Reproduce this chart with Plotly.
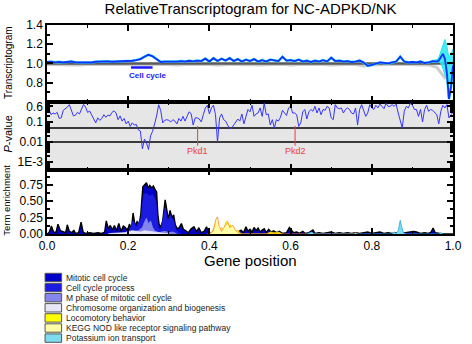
import numpy as np
import plotly.graph_objects as go

FONT = "Liberation Sans, Arial, sans-serif"

# ---------------- Panel 1: relative transcriptogram ----------------
tg_pos = list(np.round(np.arange(0, 0.961, 0.01), 3)) + [0.965, 0.97, 0.975, 0.98, 0.985, 0.99, 0.995, 1.0]
tg_blue = [
    1.015, 1.018, 1.012, 1.016, 1.010, 1.015, 1.020, 1.012, 1.010, 1.015,
    1.012, 1.010, 1.018, 1.020, 1.015, 1.022, 1.018, 1.020, 1.025, 1.020,
    1.022, 1.028, 1.035, 1.045, 1.070, 1.090, 1.075, 1.040, 1.015, 1.020,
    1.018, 1.022, 1.020, 1.025, 1.020, 1.028, 1.022, 1.030, 1.025, 1.050,
    1.020, 1.055, 1.025, 1.050, 1.030, 1.055, 1.025, 1.045, 1.020, 1.040,
    1.025, 1.045, 1.020, 1.035, 1.020, 1.040, 1.030, 1.025, 1.070, 1.030,
    1.035, 1.025, 1.040, 1.020, 1.030, 1.015, 1.030, 1.020, 1.035, 1.020,
    1.060, 1.025, 1.030, 1.020, 1.025, 1.015, 1.020, 1.030, 1.010, 0.975,
    0.985, 1.000, 1.010, 1.005, 1.000, 1.010, 1.020, 1.070, 1.020, 1.010,
    1.015, 1.010, 1.020, 1.005, 1.010, 1.025, 1.020,
    1.030, 1.060, 1.100, 1.050, 0.900, 0.630, 0.750, 0.980,
]
cyan_pos = [0.95, 0.955, 0.96, 0.965, 0.97, 0.975, 0.98, 0.985, 0.99, 0.995, 1.0]
cyan_hi = [1.03, 1.035, 1.04, 1.06, 1.12, 1.20, 1.25, 1.18, 1.05, 1.10, 1.15]
cyan_lo = [1.01, 1.010, 1.01, 1.02, 1.00, 0.95, 0.88, 0.85, 0.80, 0.85, 0.90]
grey_pos = list(np.round(np.arange(0, 1.0001, 0.02), 3))
grey_vals = [
    0.990, 0.988, 0.992, 0.990, 0.985, 0.990, 0.992, 0.988, 0.990, 0.993,
    0.990, 0.988, 0.985, 0.990, 0.992, 0.988, 0.984, 0.990, 0.992, 0.988,
    0.990, 0.985, 0.990, 0.992, 0.987, 0.990, 0.985, 0.990, 0.988, 0.992,
    0.985, 0.990, 0.992, 0.988, 0.990, 0.985, 0.990, 0.988, 0.990, 0.975,
    0.985, 0.990, 0.988, 0.992, 0.990, 0.988, 0.990, 0.985, 0.960, 0.850,
    0.920,
]
baseline = 1.0
cc_term_range = [0.207, 0.26]
cc_term_level = 0.958
cc_term_label = "Cell cycle"
cc_label_pos = (0.2465, 0.875)
tg_ticks = [0.8, 1.0, 1.2, 1.4]

# ---------------- Panel 2: P-value ----------------
pv_pos = list(np.round(np.arange(0, 1.0001, 0.005), 3))
pv_vals = [
    0.30, 0.40, 0.23, 0.28, 0.25, 0.30, 0.15, 0.16, 0.38, 0.45, 0.55, 0.73, 0.40, 0.20, 0.22, 0.30, 0.25, 0.42, 0.75, 0.55,
    0.30, 0.35, 0.22, 0.16, 0.09, 0.16, 0.12, 0.15, 0.23, 0.17, 0.22, 0.20, 0.30, 0.36, 0.28, 0.13, 0.20, 0.11, 0.15, 0.08,
    0.11, 0.06, 0.09, 0.07, 0.075, 0.04, 0.035, 0.0045, 0.014, 0.009, 0.0042, 0.02, 0.034, 0.08, 0.20, 0.72, 0.38, 0.09, 0.12, 0.13,
    0.12, 0.10, 0.13, 0.11, 0.08, 0.15, 0.11, 0.19, 0.11, 0.19, 0.32, 0.26, 0.07, 0.16, 0.16, 0.14, 0.10, 0.23, 0.50, 0.68,
    0.25, 0.50, 0.68, 0.23, 0.01, 0.16, 0.25, 0.13, 0.11, 0.07, 0.045, 0.05, 0.07, 0.11, 0.14, 0.11, 0.25, 0.08, 0.16, 0.42,
    0.32, 0.68, 0.19, 0.25, 0.28, 0.50, 0.19, 0.85, 0.23, 0.25, 0.07, 0.13, 0.05, 0.13, 0.11, 0.17, 0.38, 0.28, 0.21, 0.50,
    0.60, 0.28, 0.28, 0.23, 0.06, 0.09, 0.32, 0.42, 0.14, 0.32, 0.42, 0.34, 0.60, 0.28, 0.50, 0.23, 0.42, 0.38, 0.60, 0.50,
    0.16, 0.13, 0.73, 0.50, 0.46, 0.50, 0.28, 0.42, 0.50, 0.42, 0.28, 0.25, 0.50, 0.07, 0.42, 0.73, 0.38, 0.19, 0.28, 0.73,
    0.50, 0.42, 0.68, 0.50, 0.78, 0.60, 0.46, 0.85, 0.60, 0.60, 0.73, 0.60, 0.78, 0.28, 0.11, 0.05, 0.34, 0.60, 0.50, 0.85,
    0.68, 0.42, 0.42, 0.19, 0.42, 0.10, 0.42, 0.68, 0.34, 0.42, 0.38, 0.28, 0.23, 0.08, 0.34, 0.68, 0.50, 0.73, 0.16, 0.23,
    0.30,
]
sig_levels = [0.05, 0.01]
gene_labels = ["Pkd1", "Pkd2"]
gene_pos = [0.371, 0.611]
gene_marker_span = [0.063, 0.0065]
pv_ticks = [0.001, 0.01, 0.1, 0.6]
pv_ticktext = ["1E-3", "0.01", "0.1", "0.6"]

# ---------------- Panel 3: term enrichment ----------------
te_names = [
    "Mitotic cell cycle", "Cell cycle process", "M phase of mitotic cell cycle",
    "Chromosome organization and biogenesis", "Locomotory behavior",
    "KEGG NOD like receptor signaling pathway", "Potassium ion transport",
]
te_mitotic_x = [0.0, 0.005, 0.011, 0.016, 0.022, 0.027, 0.033, 0.04, 0.046, 0.05, 0.055, 0.062, 0.066, 0.07, 0.078,
                0.084, 0.089, 0.095, 0.105, 0.115, 0.125, 0.135, 0.142, 0.146, 0.151, 0.156, 0.161, 0.166, 0.171,
                0.177, 0.182, 0.188, 0.193, 0.198, 0.203, 0.208, 0.212, 0.217, 0.222, 0.227, 0.231, 0.236, 0.241,
                0.245, 0.249, 0.253, 0.258, 0.262, 0.266, 0.27, 0.273, 0.276, 0.28, 0.285, 0.291, 0.296, 0.299,
                0.303, 0.308, 0.312, 0.316, 0.321, 0.326, 0.331, 0.336, 0.342, 0.348, 0.355, 0.362, 0.368, 0.374,
                0.38, 0.387, 0.393, 0.398, 0.405, 0.41, 0.418, 0.43, 0.44, 0.45, 0.46, 0.47, 0.478, 0.484, 0.49,
                0.495, 0.5, 0.505, 0.51, 0.515, 0.52, 0.525, 0.53, 0.535, 0.54, 0.546, 0.552, 0.558, 0.565, 0.572,
                0.58, 0.59, 0.597, 0.602, 0.607, 0.615, 0.622, 0.63, 0.635, 0.645, 0.655, 0.66, 0.67, 0.68, 0.69,
                0.7, 0.71, 0.72, 0.73, 0.74, 0.75, 0.76, 0.77, 0.78, 0.79, 0.8, 0.81, 0.82, 0.83, 0.84, 0.85, 0.86,
                0.87, 0.88, 0.895, 0.903, 0.91, 0.92, 0.93, 0.94, 0.946, 0.951, 0.956, 0.965, 0.975, 1.0]
te_mitotic_y = [0.0, 0.02, 0.12, 0.03, 0.02, 0.15, 0.05, 0.03, 0.02, 0.14, 0.04, 0.02, 0.06, 0.01, 0.02,
                0.18, 0.03, 0.01, 0.02, 0.01, 0.02, 0.01, 0.03, 0.20, 0.08, 0.13, 0.06, 0.13, 0.05,
                0.16, 0.04, 0.12, 0.10, 0.05, 0.15, 0.08, 0.32, 0.12, 0.19, 0.15, 0.30, 0.72, 0.76,
                0.78, 0.70, 0.74, 0.70, 0.73, 0.68, 0.64, 0.30, 0.15, 0.10, 0.20, 0.52, 0.30, 0.22,
                0.36, 0.25, 0.29, 0.14, 0.08, 0.10, 0.16, 0.07, 0.05, 0.02, 0.08, 0.11, 0.04, 0.09,
                0.02, 0.04, 0.11, 0.02, 0.01, 0.03, 0.02, 0.03, 0.02, 0.04, 0.02, 0.03, 0.06, 0.02, 0.11,
                0.04, 0.07, 0.03, 0.10, 0.05, 0.09, 0.03, 0.06, 0.08, 0.02, 0.07, 0.03, 0.05, 0.02, 0.04,
                0.01, 0.02, 0.10, 0.06, 0.02, 0.03, 0.01, 0.04, 0.01, 0.02, 0.06, 0.01, 0.02, 0.01, 0.02,
                0.03, 0.01, 0.02, 0.01, 0.02, 0.01, 0.02, 0.01, 0.02, 0.03, 0.01, 0.02, 0.03, 0.01, 0.02, 0.01, 0.02,
                0.01, 0.02, 0.03, 0.04, 0.03, 0.01, 0.02, 0.01, 0.03, 0.09, 0.02, 0.01, 0.0, 0.0]
te_ccproc_x = [0.2, 0.212, 0.22, 0.232, 0.238, 0.245, 0.252, 0.26, 0.268, 0.274, 0.28, 0.291, 0.297, 0.304, 0.312, 0.318, 0.33]
te_ccproc_y = [0.0, 0.20, 0.10, 0.25, 0.60, 0.62, 0.58, 0.60, 0.50, 0.10, 0.05, 0.40, 0.20, 0.28, 0.20, 0.05, 0.0]
te_mphase_x = [0.2, 0.21, 0.225, 0.235, 0.24, 0.245, 0.25, 0.255, 0.26, 0.265, 0.275, 0.29, 0.3, 0.31, 0.32]
te_mphase_y = [0.0, 0.03, 0.05, 0.10, 0.18, 0.24, 0.15, 0.20, 0.10, 0.05, 0.02, 0.04, 0.02, 0.03, 0.0]
te_chrom_x = [0.15, 0.16, 0.19, 0.2, 0.21, 0.22, 0.23, 0.24, 0.25, 0.26, 0.27, 0.28, 0.3]
te_chrom_y = [0.0, 0.01, 0.02, 0.03, 0.05, 0.04, 0.03, 0.05, 0.04, 0.03, 0.02, 0.01, 0.0]
te_locom_x = [0.395, 0.405, 0.41, 0.415, 0.418, 0.421, 0.425, 0.43, 0.435, 0.44, 0.444, 0.448, 0.452, 0.456,
              0.46, 0.465, 0.47, 0.475, 0.48, 0.54, 0.55, 0.56, 0.57, 0.58]
te_locom_y = [0.0, 0.02, 0.08, 0.20, 0.24, 0.15, 0.06, 0.10, 0.05, 0.17, 0.20, 0.12, 0.14, 0.08,
              0.10, 0.04, 0.06, 0.02, 0.0, 0.0, 0.03, 0.02, 0.03, 0.0]
te_kegg_x = [0.4, 0.41, 0.416, 0.42, 0.424, 0.43, 0.44, 0.446, 0.45, 0.458, 0.465, 0.475, 0.755, 0.76, 0.765]
te_kegg_y = [0.0, 0.05, 0.22, 0.26, 0.12, 0.04, 0.14, 0.17, 0.10, 0.13, 0.05, 0.0, 0.0, 0.02, 0.0]
te_kion_x = [0.64, 0.652, 0.658, 0.85, 0.855, 0.86, 0.865, 0.87, 0.874, 0.878, 0.885, 0.965, 0.97, 0.975]
te_kion_y = [0.0, 0.03, 0.0, 0.0, 0.03, 0.01, 0.05, 0.21, 0.10, 0.02, 0.0, 0.0, 0.02, 0.0]

te_fill = ["#0000c8", "#1c1ce0", "#8585ee", "#e6e6f6", "#ffff00", "#ffffa8", "#7ddcf0"]
te_line = ["#000000", "#1c1ce0", "#8585ee", "#e6e6f6", "#f0c000", "#ff8a40", "#30a8dc"]
te_series = [(te_mitotic_x, te_mitotic_y), (te_ccproc_x, te_ccproc_y), (te_mphase_x, te_mphase_y),
             (te_chrom_x, te_chrom_y), (te_locom_x, te_locom_y), (te_kegg_x, te_kegg_y), (te_kion_x, te_kion_y)]

fig = go.Figure()

# Panel 1 traces
fig.add_trace(go.Scatter(x=grey_pos, y=grey_vals, mode="lines", line=dict(color="#cccccc", width=3),
                         xaxis="x", yaxis="y", hoverinfo="skip"))
fig.add_trace(go.Scatter(x=[0, 1], y=[baseline, baseline], mode="lines", line=dict(color="#5a5a5a", width=2.5),
                         xaxis="x", yaxis="y", hoverinfo="skip"))
fig.add_trace(go.Scatter(x=tg_pos, y=tg_blue, mode="lines", line=dict(color="#33e6f0", width=2.6),
                         xaxis="x", yaxis="y", hoverinfo="skip"))
fig.add_trace(go.Scatter(x=cyan_pos, y=cyan_lo, mode="lines", line=dict(color="#22e8f0", width=1),
                         xaxis="x", yaxis="y", hoverinfo="skip"))
fig.add_trace(go.Scatter(x=cyan_pos, y=cyan_hi, mode="lines", line=dict(color="#22e8f0", width=1),
                         fill="tonexty", fillcolor="rgba(40,232,240,0.85)", xaxis="x", yaxis="y", hoverinfo="skip"))
fig.add_trace(go.Scatter(x=tg_pos, y=tg_blue, mode="lines", line=dict(color="#1030ff", width=1.8),
                         xaxis="x", yaxis="y"))
fig.add_trace(go.Scatter(x=cc_term_range, y=[cc_term_level, cc_term_level], mode="lines",
                         line=dict(color="#1a1aff", width=2.5), xaxis="x", yaxis="y", hoverinfo="skip"))

# Panel 2 traces
for lvl in sig_levels:
    fig.add_trace(go.Scatter(x=[0, 1], y=[lvl, lvl], mode="lines", line=dict(color="black", width=1.5),
                             xaxis="x2", yaxis="y2", hoverinfo="skip"))
for gp in gene_pos:
    fig.add_trace(go.Scatter(x=[gp, gp], y=gene_marker_span, mode="lines", line=dict(color="#e8413c", width=1),
                             xaxis="x2", yaxis="y2", hoverinfo="skip"))
fig.add_trace(go.Scatter(x=pv_pos, y=pv_vals, mode="lines", line=dict(color="#3535ff", width=1),
                         xaxis="x2", yaxis="y2"))

# Panel 3 traces
for (sx, sy), name, fc, lc in zip(te_series, te_names, te_fill, te_line):
    fig.add_trace(go.Scatter(x=sx, y=sy, mode="lines", name=name, fill="tozeroy", fillcolor=fc,
                             line=dict(color=lc, width=1.4 if lc == "#000000" else 0.8),
                             xaxis="x3", yaxis="y3"))

axis_common = dict(showline=True, linecolor="black", linewidth=1.5, mirror="ticks", ticks="inside",
                   tickcolor="black", tickwidth=1.5, ticklen=6, showgrid=False, zeroline=False,
                   tickfont=dict(family=FONT, size=12, color="black"))
minor_x = dict(ticks="inside", ticklen=3, dtick=0.1, tickcolor="black", tickwidth=1, showgrid=False)

layout = dict(
    width=472, height=344,
    margin=dict(l=47, r=10, t=25, b=110),
    paper_bgcolor="white", plot_bgcolor="white",
    showlegend=False,
    font=dict(family=FONT, color="black"),
    title=dict(text="RelativeTranscriptogram for NC-ADPKD/NK", x=0.531, xanchor="center",
               y=0.974, yanchor="middle", yref="container",
               font=dict(family=FONT, size=15, color="black")),
    xaxis=dict(axis_common, domain=[0, 1], range=[0, 1], anchor="y", dtick=0.2, showticklabels=False, minor=minor_x),
    xaxis2=dict(axis_common, domain=[0, 1], range=[0, 1], anchor="y2", dtick=0.2, showticklabels=False,
                minor=minor_x, matches="x"),
    xaxis3=dict(axis_common, domain=[0, 1], range=[0, 1], anchor="y3", dtick=0.2, tickformat=".1f",
                minor=minor_x, matches="x", ticklabelstandoff=0),
    yaxis=dict(axis_common, domain=[0.632, 1], range=[0.6, 1.4], anchor="x", tickvals=tg_ticks,
               tickformat=".1f", minor=dict(ticks="inside", ticklen=3, dtick=0.1, tickcolor="black")),
    yaxis2=dict(axis_common, domain=[0.308, 0.632], type="log", range=[-3.38, 0], anchor="x2",
                tickvals=pv_ticks, ticktext=pv_ticktext,
                minor=dict(ticks="inside", ticklen=3, tickcolor="black",
                           tickvals=[k * 10.0 ** e for e in (-4, -3, -2, -1) for k in range(2, 10)])),
    yaxis3=dict(axis_common, domain=[0, 0.308], range=[0, 0.98], anchor="x3", tickvals=[0, 0.25, 0.5, 0.75],
                tickformat=".2f", minor=dict(ticks="inside", ticklen=3, dtick=0.125, tickcolor="black")),
)
fig.update_layout(**layout)

# grey background of P-value panel
fig.add_shape(type="rect", xref="x2 domain", yref="y2 domain", x0=0, x1=1, y0=0, y1=1,
              fillcolor="#e6e6e6", line=dict(width=0), layer="below")

annos = []
# axis titles
annos.append(dict(text="Transcriptogram", x=-0.0964, y=0.818, xref="paper", yref="paper", textangle=-90,
                  showarrow=False, xanchor="center", yanchor="middle", font=dict(size=10, color="black")))
annos.append(dict(text="<i>P</i>-value", x=-0.0964, y=0.48, xref="paper", yref="paper", textangle=-90,
                  showarrow=False, xanchor="center", yanchor="middle", font=dict(size=11, color="black")))
annos.append(dict(text="Term enrichment", x=-0.099, y=0.163, xref="paper", yref="paper", textangle=-90,
                  showarrow=False, xanchor="center", yanchor="middle", font=dict(size=9.5, color="black")))
annos.append(dict(text="Gene position", x=0.5, y=-0.127, xref="paper", yref="paper", showarrow=False,
                  xanchor="center", yanchor="middle", font=dict(size=15, color="black")))
# cell cycle label
annos.append(dict(text="<b>" + cc_term_label + "</b>", x=cc_label_pos[0], y=cc_label_pos[1], xref="x", yref="y",
                  showarrow=False, xanchor="center", yanchor="middle", font=dict(size=8, color="#1a1aff")))
# gene labels
for gl, gp in zip(gene_labels, gene_pos):
    annos.append(dict(text=gl, x=gp, y=0.27, xref="x2", yref="y2 domain", showarrow=False,
                      xanchor="center", yanchor="middle", font=dict(size=9, color="#e8413c")))

# manual legend
H = 209.0
for i, (name, fc) in enumerate(zip(te_names, te_fill)):
    py = 277.5 + i * 10.1
    yc = (234 - py) / H
    fig.add_shape(type="rect", xref="paper", yref="paper", x0=-0.0048, x1=0.036,
                  y0=yc - 4.2 / H, y1=yc + 4.2 / H, fillcolor=fc, line=dict(color="#555555", width=1))
    annos.append(dict(text=name, x=0.043, y=yc, xref="paper", yref="paper", showarrow=False,
                      xanchor="left", yanchor="middle", font=dict(size=8.5, color="#222222")))

fig.update_layout(annotations=annos)
fig.write_html("out.html", config={"displayModeBar": False},
               post_script="document.body.style.margin='0px';document.body.style.padding='0px';"
                           "document.body.style.overflow='hidden';")
